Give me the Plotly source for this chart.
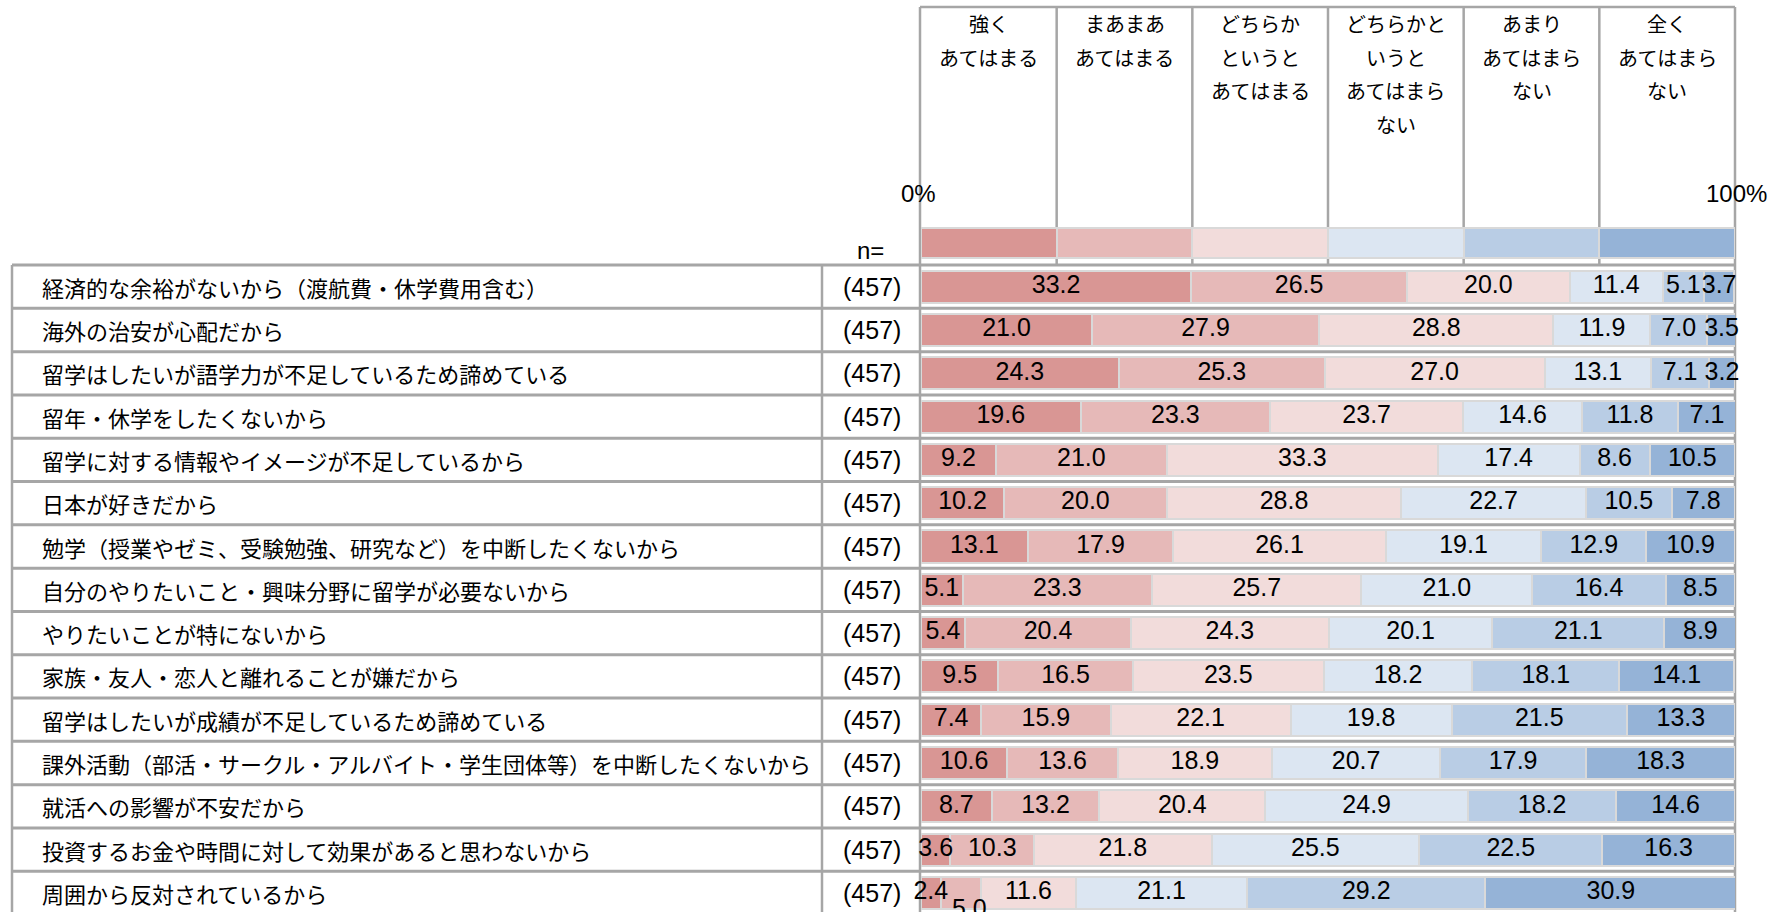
import plotly.graph_objects as go

# ---------------- data ----------------
categories = [
    "経済的な余裕がないから（渡航費・休学費用含む）",
    "海外の治安が心配だから",
    "留学はしたいが語学力が不足しているため諦めている",
    "留年・休学をしたくないから",
    "留学に対する情報やイメージが不足しているから",
    "日本が好きだから",
    "勉学（授業やゼミ、受験勉強、研究など）を中断したくないから",
    "自分のやりたいこと・興味分野に留学が必要ないから",
    "やりたいことが特にないから",
    "家族・友人・恋人と離れることが嫌だから",
    "留学はしたいが成績が不足しているため諦めている",
    "課外活動（部活・サークル・アルバイト・学生団体等）を中断したくないから",
    "就活への影響が不安だから",
    "投資するお金や時間に対して効果があると思わないから",
    "周囲から反対されているから",
]
n_values = [457] * 15

series_names = [
    "強く<br>あてはまる",
    "まあまあ<br>あてはまる",
    "どちらか<br>というと<br>あてはまる",
    "どちらかと<br>いうと<br>あてはまら<br>ない",
    "あまり<br>あてはまら<br>ない",
    "全く<br>あてはまら<br>ない",
]
strongly_agree = [33.2, 21.0, 24.3, 19.6, 9.2, 10.2, 13.1, 5.1, 5.4, 9.5, 7.4, 10.6, 8.7, 3.6, 2.4]
somewhat_agree = [26.5, 27.9, 25.3, 23.3, 21.0, 20.0, 17.9, 23.3, 20.4, 16.5, 15.9, 13.6, 13.2, 10.3, 5.0]
lean_agree = [20.0, 28.8, 27.0, 23.7, 33.3, 28.8, 26.1, 25.7, 24.3, 23.5, 22.1, 18.9, 20.4, 21.8, 11.6]
lean_disagree = [11.4, 11.9, 13.1, 14.6, 17.4, 22.7, 19.1, 21.0, 20.1, 18.2, 19.8, 20.7, 24.9, 25.5, 21.1]
not_much = [5.1, 7.0, 7.1, 11.8, 8.6, 10.5, 12.9, 16.4, 21.1, 18.1, 21.5, 17.9, 18.2, 22.5, 29.2]
not_at_all = [3.7, 3.5, 3.2, 7.1, 10.5, 7.8, 10.9, 8.5, 8.9, 14.1, 13.3, 18.3, 14.6, 16.3, 30.9]
series_values = [strongly_agree, somewhat_agree, lean_agree, lean_disagree, not_much, not_at_all]

colors = ["#d99694", "#e6b9b8", "#f2dcdb", "#dce6f2", "#b9cde5", "#95b3d7"]

# ---------------- geometry (pixels) ----------------
W, H = 1784, 912
X0, X1 = 921, 1735          # 0% and 100%
ROW0, PITCH = 286.7, 43.3   # centre of first row, row pitch
LINE = "#a6a6a6"
NUMFONT = "Liberation Sans, Arial, sans-serif"
JPFONT = "Noto Sans CJK JP, sans-serif"
NUMSIZE = 25


def px(x):
    return x / W


def py(y):
    return 1 - y / H


fig = go.Figure()

n_rows = len(categories)
legend_y = -1
rows = list(range(n_rows))
bases = [0.0] * n_rows
for k, (name, vals, col) in enumerate(zip(series_names, series_values, colors)):
    ys = [legend_y] + rows
    xs = [100 / len(series_names)] + vals
    widths = [0.69] + [0.74] * n_rows
    fig.add_trace(go.Bar(
        y=ys, x=xs, orientation="h", name=name.replace("<br>", ""),
        width=widths,
        marker=dict(color=col, line=dict(color="#d9d9d9", width=2.5)),
        hoverinfo="skip",
    ))
    # value labels at segment centres
    centres = [b + v / 2 for b, v in zip(bases, vals)]
    texts = [f"{v:.1f}" for v in vals]
    if k == 1:
        texts[-1] = ""  # last-row label is displaced in the reference; drawn below
    fig.add_trace(go.Scatter(
        x=centres, y=rows, mode="text", text=texts, textposition="middle center",
        textfont=dict(family=NUMFONT, size=NUMSIZE, color="black"),
        cliponaxis=False, hoverinfo="skip", showlegend=False,
    ))
    bases = [b + v for b, v in zip(bases, vals)]

# displaced "5.0" label on last row
last = n_rows - 1
fig.add_annotation(
    x=strongly_agree[last] + somewhat_agree[last] / 2, y=last, xref="x", yref="y",
    text=f"{somewhat_agree[last]:.1f}", showarrow=False, xshift=9, yshift=-15,
    xanchor="center", yanchor="middle",
    font=dict(family=NUMFONT, size=NUMSIZE, color="black"),
)

fig.update_layout(
    width=W, height=H, margin=dict(l=0, r=0, t=0, b=0),
    paper_bgcolor="white", plot_bgcolor="rgba(0,0,0,0)",
    barmode="stack", bargap=0, showlegend=False,
    xaxis=dict(range=[0, 100], domain=[px(X0), px(X1)], visible=False, fixedrange=True),
    yaxis=dict(range=[(H - ROW0) / PITCH, -ROW0 / PITCH], visible=False, fixedrange=True),
)

shapes = []
# horizontal row separators
for k in range(n_rows + 1):
    shapes.append(dict(type="line", xref="paper", yref="y", x0=px(12), x1=px(X1),
                       y0=k - 0.5, y1=k - 0.5, line=dict(color=LINE, width=3), layer="below"))
# label box verticals
for xv in (12, 822):
    shapes.append(dict(type="line", xref="paper", yref="y", x0=px(xv), x1=px(xv),
                       y0=-0.5, y1=n_rows + 1, line=dict(color=LINE, width=2.5), layer="below"))
# 0% and 100% verticals
for xv in (X0 - 1, X1):
    shapes.append(dict(type="line", xref="paper", yref="paper", x0=px(xv), x1=px(xv),
                       y0=py(7), y1=0, line=dict(color=LINE, width=2.5), layer="below"))
# header top border
shapes.append(dict(type="line", xref="paper", yref="paper", x0=px(X0 - 1), x1=px(X1),
                   y0=py(7), y1=py(7), line=dict(color=LINE, width=2.5), layer="below"))
# header column boundaries
colw = (X1 - X0) / len(series_names)
for k in range(1, len(series_names)):
    xv = X0 + colw * k
    shapes.append(dict(type="line", xref="paper", yref="paper", x0=px(xv), x1=px(xv),
                       y0=py(7), y1=py(266), line=dict(color=LINE, width=2.5), layer="below"))
fig.update_layout(shapes=shapes)

# header texts (one annotation per line)
for k, name in enumerate(series_names):
    cx = X0 + colw * (k + 0.5)
    for j, line in enumerate(name.split("<br>")):
        fig.add_annotation(x=px(cx), y=py(24 + 33.5 * j), xref="paper", yref="paper",
                           text=line, showarrow=False, xanchor="center", yanchor="middle",
                           font=dict(family=JPFONT, size=20, color="black"))

# 0% / 100% / n=
fig.add_annotation(x=px(918), y=py(193), xref="paper", yref="paper", text="0%",
                   showarrow=False, xanchor="center", yanchor="middle",
                   font=dict(family=NUMFONT, size=NUMSIZE - 1, color="black"))
fig.add_annotation(x=px(1736), y=py(193), xref="paper", yref="paper", text="100%",
                   showarrow=False, xanchor="center", yanchor="middle",
                   font=dict(family=NUMFONT, size=NUMSIZE - 1, color="black"))
fig.add_annotation(x=px(870), y=py(250), xref="paper", yref="paper", text="n=",
                   showarrow=False, xanchor="center", yanchor="middle",
                   font=dict(family=NUMFONT, size=NUMSIZE - 1, color="black"))

# row labels and n
for i, (cat, n) in enumerate(zip(categories, n_values)):
    fig.add_annotation(x=px(40), y=i, xref="paper", yref="y", text=cat, showarrow=False,
                       xanchor="left", yanchor="middle",
                       font=dict(family=JPFONT, size=22, color="black"))
    fig.add_annotation(x=px(872), y=i, xref="paper", yref="y", text=f"({n})", showarrow=False,
                       xanchor="center", yanchor="middle",
                       font=dict(family=NUMFONT, size=NUMSIZE, color="black"))

fig.write_html("out.html", config={"displayModeBar": False},
               post_script="document.body.style.margin='0';document.body.style.overflow='hidden';")
